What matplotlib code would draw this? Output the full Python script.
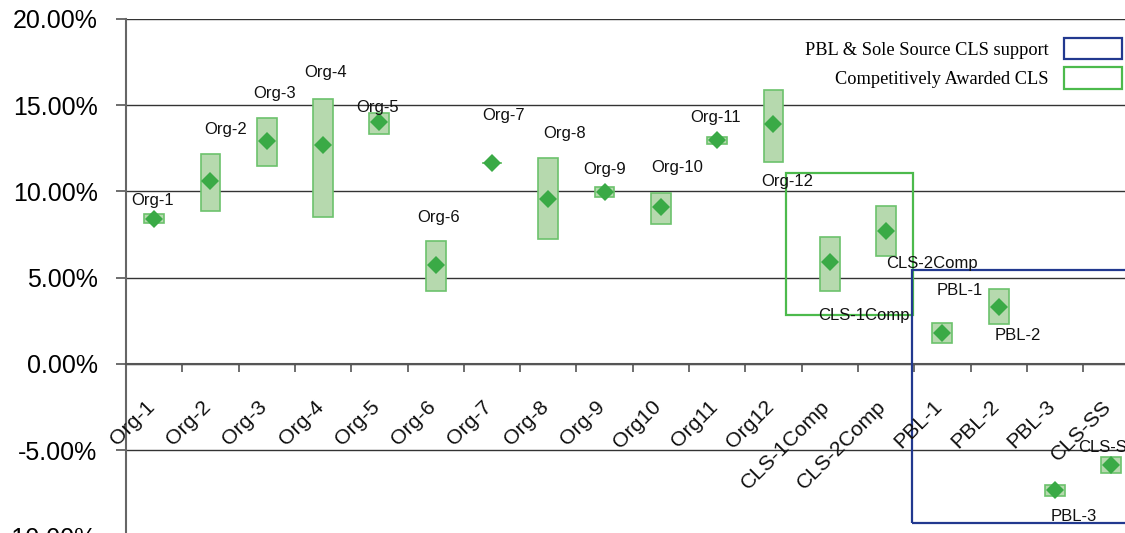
import matplotlib
matplotlib.use('Agg')
import matplotlib.pyplot as plt
from matplotlib.patches import Rectangle, Patch
from matplotlib.ticker import FuncFormatter
import numpy as np

# Data (percent values)
tick_labels = ['Org-1', 'Org-2', 'Org-3', 'Org-4', 'Org-5', 'Org-6', 'Org-7', 'Org-8',
               'Org-9', 'Org10', 'Org11', 'Org12', 'CLS-1Comp', 'CLS-2Comp',
               'PBL-1', 'PBL-2', 'PBL-3', 'CLS-SS']
point_labels = ['Org-1', 'Org-2', 'Org-3', 'Org-4', 'Org-5', 'Org-6', 'Org-7', 'Org-8',
                'Org-9', 'Org-10', 'Org-11', 'Org-12', 'CLS-1Comp', 'CLS-2Comp',
                'PBL-1', 'PBL-2', 'PBL-3', 'CLS-SS']
mean_vals = [8.40, 10.62, 12.92, 12.69, 14.00, 5.74, 11.66, 9.54, 9.98, 9.08, 12.96, 13.89,
             5.91, 7.72, 1.81, 3.32, -7.30, -5.85]
low_vals = [8.15, 8.88, 11.47, 8.50, 13.34, 4.25, 11.66, 7.22, 9.66, 8.09, 12.75, 11.70,
            4.25, 6.26, 1.23, 2.30, -7.63, -6.33]
high_vals = [8.69, 12.15, 14.23, 15.34, 14.56, 7.14, 11.66, 11.94, 10.27, 9.89, 13.17, 15.90,
             7.38, 9.17, 2.39, 4.33, -7.01, -5.41]

# highlighted groups: (x0, x1, y0, y1) in category / percent units
comp_region = (11.72, 13.97, 2.84, 11.07)
pbl_region = (13.96, 19.0, -9.19, 5.46)

# label offsets in pixels from each diamond (layout only)
label_offsets = [(-2, 19), (15, 51), (8, 47), (3, 72), (-2, 15), (3, 47), (12, 47), (16, 66),
                 (0, 22), (16, 40), (-2, 23), (14, -57), (34, -54), (46, -33),
                 (17, 42), (19, -29), (19, -27), (-3, 17)]

sans = ['Liberation Sans', 'DejaVu Sans']
serif = ['Liberation Serif', 'DejaVu Serif']
plt.rcParams['font.family'] = sans

fig = plt.figure(figsize=(11.25, 5.33), dpi=100)
ax = fig.add_axes([0.112, -0.00675, 0.9008, 0.9715])

x = np.arange(len(tick_labels)) + 0.5
lows = np.array(low_vals)
highs = np.array(high_vals)

# range boxes and mean diamonds
ax.bar(x, highs - lows, bottom=lows, width=0.35, color='#b6d9ae',
       edgecolor='#6cc26c', linewidth=1.2, zorder=3)
ax.plot(x, mean_vals, linestyle='none', marker='D', markersize=8.7,
        color='#3aaa46', markeredgewidth=0, zorder=4)

for xi, yi, lab, off in zip(x, mean_vals, point_labels, label_offsets):
    ax.annotate(lab, (xi, yi), xytext=off, textcoords='offset pixels',
                ha='center', va='center', fontsize=12, color='#111111', zorder=6)

# category labels, rotated, hanging below the zero line
for xi, lab in zip(x, tick_labels):
    ax.annotate(lab, (xi, 0), xytext=(4, -33), textcoords='offset pixels',
                ha='right', va='top', rotation=45, fontsize=15.3,
                color='#111111', annotation_clip=False, zorder=6)

# group highlight boxes
x0, x1, y0, y1 = comp_region
ax.add_patch(Rectangle((x0, y0), x1 - x0, y1 - y0, fill=False,
                       edgecolor='#4cba4c', linewidth=1.6, zorder=5))
x0, x1, y0, y1 = pbl_region
ax.add_patch(Rectangle((x0, y0), x1 - x0, y1 - y0, fill=False,
                       edgecolor='#22398f', linewidth=1.6, zorder=5))

# axes
ax.set_xlim(0, len(tick_labels))
ax.set_ylim(-10, 20)
ax.set_yticks(np.arange(-10, 20.1, 5))
ax.yaxis.set_major_formatter(FuncFormatter(lambda v, p: f'{v:.2f}%'))
ax.tick_params(axis='y', labelsize=18, length=7.5, width=1.2, color='#555555',
               pad=13, direction='out')
ax.yaxis.grid(True, color='#333333', linewidth=1.0)
ax.set_axisbelow(True)

ax.set_xticks(np.arange(1, len(tick_labels)))
ax.tick_params(axis='x', which='major', length=6, width=1.2, color='#555555',
               direction='out', labelbottom=False)

for side in ['top', 'right']:
    ax.spines[side].set_visible(False)
ax.spines['bottom'].set_position(('data', 0))
ax.spines['bottom'].set_color('#555555')
ax.spines['bottom'].set_linewidth(1.5)
ax.spines['left'].set_color('#666666')
ax.spines['left'].set_linewidth(1.5)

handles = [Patch(facecolor='none', edgecolor='#22398f', linewidth=1.6),
           Patch(facecolor='none', edgecolor='#4cba4c', linewidth=1.6)]
ax.legend(handles, ['PBL & Sole Source CLS support', 'Competitively Awarded CLS'],
          loc='upper right', bbox_to_anchor=(0.983, 0.963), frameon=False,
          markerfirst=False, prop={'family': serif, 'size': 13.2},
          handlelength=3.2, handleheight=1.4, handletextpad=0.8,
          labelspacing=0.45, borderpad=0, borderaxespad=0)

fig.savefig('out.png', dpi=100)
